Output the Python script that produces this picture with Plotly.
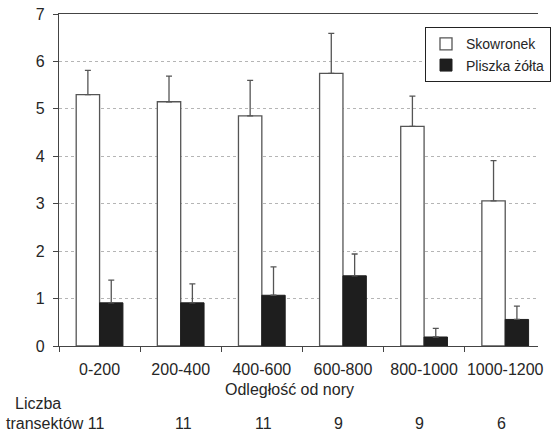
import plotly.graph_objects as go

categories = ["0-200", "200-400", "400-600", "600-800", "800-1000", "1000-1200"]
skowronek = [5.30, 5.15, 4.85, 5.75, 4.63, 3.06]
skowronek_err = [0.51, 0.54, 0.75, 0.84, 0.64, 0.85]
pliszka = [0.91, 0.91, 1.07, 1.48, 0.19, 0.56]
pliszka_err = [0.48, 0.40, 0.60, 0.46, 0.18, 0.28]
transekty = [11, 11, 11, 9, 9, 6]
count_shift = [0, 3, 2, -4, -5, -4]

FONT = "Arial, Liberation Sans, sans-serif"
TXT = "#262626"

fig = go.Figure()
fig.add_trace(go.Bar(
    x=categories, y=skowronek, name="Skowronek",
    marker=dict(color="white", line=dict(color="#555555", width=1.3)),
    error_y=dict(type="data", array=skowronek_err, symmetric=False,
                 color="#555555", thickness=1.3, width=3),
))
fig.add_trace(go.Bar(
    x=categories, y=pliszka, name="Pliszka żółta",
    marker=dict(color="#1e1e1e", line=dict(color="#1e1e1e", width=1)),
    error_y=dict(type="data", array=pliszka_err, symmetric=False,
                 color="#555555", thickness=1.3, width=3),
))

annotations = [
    dict(text="Odległość od nory", xref="paper", yref="paper",
         x=(296 - 59) / 492, y=(346.5 - 390.5) / 332.5, xanchor="center", yanchor="middle",
         showarrow=False, font=dict(size=16, family=FONT, color=TXT)),
    dict(text="Liczba", xref="paper", yref="paper",
         x=(12 - 59) / 492, y=(346.5 - 404) / 332.5, xanchor="left", yanchor="middle",
         showarrow=False, font=dict(size=16, family=FONT, color=TXT)),
    dict(text=f"transektów {transekty[0]}", xref="paper", yref="paper",
         x=(2 - 59) / 492, y=(346.5 - 424) / 332.5, xanchor="left", yanchor="middle",
         showarrow=False, font=dict(size=16, family=FONT, color=TXT)),
]
for i in range(1, len(categories)):
    annotations.append(dict(text=str(transekty[i]), xref="x", yref="paper",
                            x=categories[i], xshift=count_shift[i],
                            y=(346.5 - 424) / 332.5, xanchor="center", yanchor="middle",
                            showarrow=False, font=dict(size=16, family=FONT, color=TXT)))

fig.update_layout(
    width=551, height=434,
    margin=dict(l=59, r=0, t=14, b=88),
    paper_bgcolor="white", plot_bgcolor="white",
    barmode="group", bargap=0.424, bargroupgap=0,
    font=dict(family=FONT, size=16, color=TXT),
    showlegend=True,
    legend=dict(x=(435 - 59) / 492, y=(346.5 - 27.3) / 332.5, xanchor="left", yanchor="top",
                bordercolor="#222222", borderwidth=1, bgcolor="white",
                font=dict(size=14, family=FONT, color=TXT)),
    annotations=annotations,
)
fig.update_xaxes(
    type="category", range=[-0.5, 5.404],
    showline=True, linecolor="#444444", linewidth=1.3, mirror=True,
    ticks="outside", tickson="boundaries", ticklen=5, tickcolor="#444444",
    showgrid=False, tickangle=0, tickfont=dict(size=16, family=FONT, color=TXT),
    ticklabelstandoff=9,
)
fig.update_yaxes(
    range=[0, 7], dtick=1,
    showline=True, linecolor="#444444", linewidth=1.3,
    ticks="outside", ticklen=5, tickcolor="#444444",
    showgrid=True, gridcolor="#b5b5b5", griddash="dot", gridwidth=1,
    zeroline=False, tickfont=dict(size=16, family=FONT, color=TXT),
    ticklabelstandoff=5,
)

fig.write_html("out.html", config={"displayModeBar": False},
               post_script="document.body.style.margin='0';")
